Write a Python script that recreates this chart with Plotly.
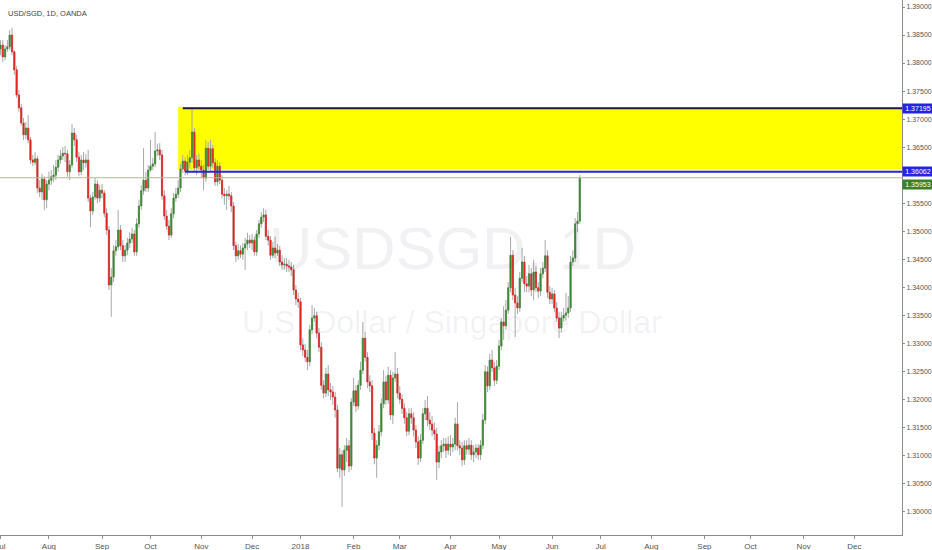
import numpy as np
import pandas as pd
import plotly.graph_objects as go

# ---------------- data (USD/SGD daily, OANDA) ----------------
open_ = [
1.3825, 1.3832, 1.3811, 1.3825, 1.3829, 1.3850, 1.3820, 1.3788, 1.3743, 1.3720,
1.3693, 1.3672, 1.3684, 1.3663, 1.3627, 1.3623, 1.3629, 1.3577, 1.3570, 1.3593,
1.3556, 1.3584, 1.3591, 1.3597, 1.3600, 1.3614, 1.3627, 1.3634, 1.3639, 1.3638,
1.3606, 1.3618, 1.3675, 1.3663, 1.3632, 1.3606, 1.3627, 1.3622, 1.3627, 1.3559,
1.3536, 1.3561, 1.3584, 1.3559, 1.3573, 1.3568, 1.3532, 1.3502, 1.3404, 1.3418,
1.3465, 1.3472, 1.3502, 1.3474, 1.3456, 1.3466, 1.3479, 1.3486, 1.3495, 1.3463,
1.3513, 1.3545, 1.3572, 1.3591, 1.3577, 1.3609, 1.3616, 1.3620, 1.3643, 1.3645,
1.3636, 1.3563, 1.3527, 1.3509, 1.3493, 1.3531, 1.3559, 1.3566, 1.3577, 1.3611,
1.3625, 1.3607, 1.3623, 1.3631, 1.3677, 1.3613, 1.3627, 1.3616, 1.3609, 1.3595,
1.3648, 1.3616, 1.3647, 1.3622, 1.3588, 1.3616, 1.3591, 1.3566, 1.3563, 1.3566,
1.3563, 1.3545, 1.3474, 1.3456, 1.3465, 1.3459, 1.3470, 1.3477, 1.3484, 1.3479,
1.3484, 1.3463, 1.3495, 1.3513, 1.3525, 1.3529, 1.3491, 1.3484, 1.3457, 1.3470,
1.3461, 1.3466, 1.3445, 1.3440, 1.3441, 1.3438, 1.3436, 1.3431, 1.3395, 1.3379,
1.3374, 1.3297, 1.3288, 1.3275, 1.3267, 1.3324, 1.3345, 1.3349, 1.3318, 1.3293,
1.3225, 1.3211, 1.3245, 1.3217, 1.3213, 1.3204, 1.3181, 1.3077, 1.3101, 1.3074,
1.3109, 1.3117, 1.3081, 1.3195, 1.3215, 1.3188, 1.3225, 1.3252, 1.3309, 1.3275,
1.3231, 1.3224, 1.3140, 1.3095, 1.3118, 1.3142, 1.3192, 1.3231, 1.3199, 1.3243,
1.3172, 1.3238, 1.3245, 1.3211, 1.3200, 1.3184, 1.3167, 1.3143, 1.3174, 1.3167,
1.3145, 1.3124, 1.3095, 1.3127, 1.3174, 1.3184, 1.3163, 1.3156, 1.3145, 1.3138,
1.3088, 1.3106, 1.3117, 1.3120, 1.3109, 1.3120, 1.3115, 1.3120, 1.3156, 1.3117,
1.3113, 1.3092, 1.3117, 1.3111, 1.3118, 1.3101, 1.3106, 1.3113, 1.3101, 1.3118,
1.3163, 1.3249, 1.3224, 1.3270, 1.3256, 1.3234, 1.3259, 1.3295, 1.3338, 1.3331,
1.3359, 1.3399, 1.3457, 1.3386, 1.3372, 1.3363, 1.3416, 1.3445, 1.3406, 1.3402,
1.3424, 1.3395, 1.3427, 1.3399, 1.3393, 1.3424, 1.3434, 1.3456, 1.3391, 1.3379,
1.3388, 1.3363, 1.3345, 1.3327, 1.3345, 1.3350, 1.3354, 1.3363, 1.3445, 1.3452,
1.3513, 1.3518]

high = [
1.3841, 1.3841, 1.3832, 1.3841, 1.3859, 1.3863, 1.3823, 1.3795, 1.3752, 1.3727,
1.3702, 1.3695, 1.3707, 1.3668, 1.3636, 1.3641, 1.3634, 1.3591, 1.3602, 1.3598,
1.3591, 1.3606, 1.3609, 1.3618, 1.3627, 1.3636, 1.3645, 1.3650, 1.3652, 1.3645,
1.3627, 1.3691, 1.3684, 1.3672, 1.3641, 1.3636, 1.3641, 1.3638, 1.3645, 1.3565,
1.3570, 1.3595, 1.3591, 1.3582, 1.3584, 1.3573, 1.3541, 1.3509, 1.3434, 1.3475,
1.3484, 1.3538, 1.3511, 1.3484, 1.3475, 1.3488, 1.3498, 1.3506, 1.3502, 1.3523,
1.3556, 1.3582, 1.3648, 1.3606, 1.3618, 1.3663, 1.3631, 1.3677, 1.3656, 1.3657,
1.3645, 1.3573, 1.3538, 1.3520, 1.3541, 1.3568, 1.3577, 1.3591, 1.3620, 1.3636,
1.3632, 1.3636, 1.3645, 1.37195, 1.3684, 1.3636, 1.3639, 1.3627, 1.3618, 1.3663,
1.3659, 1.3663, 1.3654, 1.3631, 1.3627, 1.3623, 1.3600, 1.3577, 1.3573, 1.3581,
1.3570, 1.3552, 1.3481, 1.3477, 1.3475, 1.3479, 1.3488, 1.3497, 1.3493, 1.3495,
1.3491, 1.3502, 1.3520, 1.3534, 1.3541, 1.3538, 1.3502, 1.3491, 1.3481, 1.3490,
1.3477, 1.3474, 1.3457, 1.3452, 1.3452, 1.3449, 1.3445, 1.3440, 1.3404, 1.3390,
1.3381, 1.3309, 1.3299, 1.3288, 1.3333, 1.3368, 1.3363, 1.3356, 1.3327, 1.3302,
1.3234, 1.3256, 1.3261, 1.3229, 1.3224, 1.3213, 1.3190, 1.3113, 1.3109, 1.3118,
1.3131, 1.3127, 1.3202, 1.3238, 1.3225, 1.3234, 1.3267, 1.3338, 1.3320, 1.3284,
1.3243, 1.3234, 1.3149, 1.3127, 1.3154, 1.3202, 1.3252, 1.3242, 1.3258, 1.3252,
1.3249, 1.3284, 1.3256, 1.3224, 1.3209, 1.3193, 1.3177, 1.3184, 1.3184, 1.3177,
1.3154, 1.3134, 1.3138, 1.3184, 1.3199, 1.3206, 1.3177, 1.3170, 1.3159, 1.3149,
1.3117, 1.3127, 1.3131, 1.3131, 1.3134, 1.3136, 1.3131, 1.3167, 1.3195, 1.3127,
1.3124, 1.3127, 1.3127, 1.3131, 1.3127, 1.3118, 1.3120, 1.3120, 1.3127, 1.3174,
1.3261, 1.3259, 1.3281, 1.3288, 1.3267, 1.3270, 1.3306, 1.3345, 1.3366, 1.3377,
1.3409, 1.3490, 1.3466, 1.3399, 1.3384, 1.3427, 1.3470, 1.3456, 1.3420, 1.3440,
1.3434, 1.3449, 1.3438, 1.3409, 1.3434, 1.3445, 1.3484, 1.3466, 1.3402, 1.3399,
1.3395, 1.3374, 1.3356, 1.3356, 1.3363, 1.3390, 1.3384, 1.3456, 1.3466, 1.3523,
1.3534, 1.3600]

low = [
1.3814, 1.3802, 1.3805, 1.3820, 1.3823, 1.3814, 1.3779, 1.3738, 1.3713, 1.3688,
1.3663, 1.3664, 1.3657, 1.3620, 1.3616, 1.3618, 1.3568, 1.3561, 1.3556, 1.3538,
1.3541, 1.3573, 1.3582, 1.3588, 1.3591, 1.3606, 1.3620, 1.3627, 1.3623, 1.3597,
1.3591, 1.3613, 1.3652, 1.3623, 1.3598, 1.3600, 1.3609, 1.3613, 1.3552, 1.3507,
1.3529, 1.3556, 1.3550, 1.3552, 1.3559, 1.3525, 1.3493, 1.3395, 1.3347, 1.3409,
1.3456, 1.3466, 1.3466, 1.3445, 1.3445, 1.3457, 1.3470, 1.3479, 1.3456, 1.3456,
1.3506, 1.3538, 1.3565, 1.3570, 1.3570, 1.3606, 1.3609, 1.3614, 1.3634, 1.3627,
1.3556, 1.3520, 1.3502, 1.3484, 1.3488, 1.3523, 1.3552, 1.3559, 1.3570, 1.3604,
1.3600, 1.3600, 1.3613, 1.3622, 1.3606, 1.3600, 1.3609, 1.3595, 1.3573, 1.3588,
1.3609, 1.3606, 1.3613, 1.3581, 1.3581, 1.3584, 1.3559, 1.3547, 1.3538, 1.3556,
1.3534, 1.3466, 1.3445, 1.3449, 1.3452, 1.3449, 1.3431, 1.3466, 1.3470, 1.3466,
1.3456, 1.3456, 1.3488, 1.3506, 1.3516, 1.3484, 1.3474, 1.3449, 1.3452, 1.3452,
1.3456, 1.3438, 1.3431, 1.3431, 1.3427, 1.3427, 1.3420, 1.3386, 1.3368, 1.3363,
1.3288, 1.3277, 1.3267, 1.3252, 1.3259, 1.3316, 1.3338, 1.3309, 1.3284, 1.3217,
1.3202, 1.3204, 1.3206, 1.3199, 1.3190, 1.3167, 1.3070, 1.3060, 1.3008, 1.3063,
1.3088, 1.3070, 1.3074, 1.3188, 1.3177, 1.3181, 1.3217, 1.3245, 1.3267, 1.3220,
1.3213, 1.3127, 1.3084, 1.3060, 1.3109, 1.3134, 1.3184, 1.3190, 1.3192, 1.3163,
1.3156, 1.3231, 1.3202, 1.3192, 1.3174, 1.3156, 1.3134, 1.3136, 1.3156, 1.3134,
1.3113, 1.3083, 1.3088, 1.3120, 1.3163, 1.3152, 1.3145, 1.3134, 1.3127, 1.3056,
1.3077, 1.3095, 1.3106, 1.3095, 1.3101, 1.3099, 1.3106, 1.3109, 1.3109, 1.3101,
1.3081, 1.3083, 1.3101, 1.3101, 1.3092, 1.3088, 1.3095, 1.3092, 1.3092, 1.3111,
1.3156, 1.3213, 1.3217, 1.3249, 1.3224, 1.3227, 1.3252, 1.3288, 1.3306, 1.3324,
1.3352, 1.3391, 1.3377, 1.3311, 1.3352, 1.3356, 1.3409, 1.3391, 1.3391, 1.3391,
1.3384, 1.3377, 1.3391, 1.3381, 1.3384, 1.3416, 1.3427, 1.3381, 1.3370, 1.3370,
1.3356, 1.3338, 1.3309, 1.3320, 1.3338, 1.3341, 1.3345, 1.3356, 1.3438, 1.3445,
1.3498, 1.3513]

close = [
1.3832, 1.3811, 1.3825, 1.3829, 1.3850, 1.3820, 1.3788, 1.3743, 1.3720, 1.3693,
1.3672, 1.3684, 1.3663, 1.3627, 1.3623, 1.3629, 1.3577, 1.3570, 1.3593, 1.3556,
1.3584, 1.3591, 1.3597, 1.3600, 1.3614, 1.3627, 1.3634, 1.3639, 1.3638, 1.3606,
1.3618, 1.3675, 1.3663, 1.3632, 1.3606, 1.3627, 1.3622, 1.3627, 1.3559, 1.3536,
1.3561, 1.3584, 1.3559, 1.3573, 1.3568, 1.3532, 1.3502, 1.3404, 1.3418, 1.3465,
1.3472, 1.3502, 1.3474, 1.3456, 1.3466, 1.3479, 1.3486, 1.3495, 1.3463, 1.3513,
1.3545, 1.3572, 1.3591, 1.3577, 1.3609, 1.3616, 1.3620, 1.3643, 1.3645, 1.3636,
1.3563, 1.3527, 1.3509, 1.3493, 1.3531, 1.3559, 1.3566, 1.3577, 1.3611, 1.3625,
1.3607, 1.3623, 1.3631, 1.3677, 1.3613, 1.3627, 1.3616, 1.3609, 1.3595, 1.3648,
1.3616, 1.3647, 1.3622, 1.3588, 1.3616, 1.3591, 1.3566, 1.3563, 1.3566, 1.3563,
1.3545, 1.3474, 1.3456, 1.3465, 1.3459, 1.3470, 1.3477, 1.3484, 1.3479, 1.3484,
1.3463, 1.3495, 1.3513, 1.3525, 1.3529, 1.3491, 1.3484, 1.3457, 1.3470, 1.3461,
1.3466, 1.3445, 1.3440, 1.3441, 1.3438, 1.3436, 1.3431, 1.3395, 1.3379, 1.3374,
1.3297, 1.3288, 1.3275, 1.3267, 1.3324, 1.3345, 1.3349, 1.3318, 1.3293, 1.3225,
1.3211, 1.3245, 1.3217, 1.3213, 1.3204, 1.3181, 1.3077, 1.3101, 1.3074, 1.3109,
1.3117, 1.3081, 1.3195, 1.3215, 1.3188, 1.3225, 1.3252, 1.3309, 1.3275, 1.3231,
1.3224, 1.3140, 1.3095, 1.3118, 1.3142, 1.3192, 1.3231, 1.3199, 1.3243, 1.3172,
1.3238, 1.3245, 1.3211, 1.3200, 1.3184, 1.3167, 1.3143, 1.3174, 1.3167, 1.3145,
1.3124, 1.3095, 1.3127, 1.3174, 1.3184, 1.3163, 1.3156, 1.3145, 1.3138, 1.3088,
1.3106, 1.3117, 1.3120, 1.3109, 1.3120, 1.3115, 1.3120, 1.3156, 1.3117, 1.3113,
1.3092, 1.3117, 1.3111, 1.3118, 1.3101, 1.3106, 1.3113, 1.3101, 1.3118, 1.3163,
1.3249, 1.3224, 1.3270, 1.3256, 1.3234, 1.3259, 1.3295, 1.3338, 1.3331, 1.3359,
1.3399, 1.3457, 1.3386, 1.3372, 1.3363, 1.3416, 1.3445, 1.3406, 1.3402, 1.3424,
1.3395, 1.3427, 1.3399, 1.3393, 1.3424, 1.3434, 1.3456, 1.3391, 1.3379, 1.3388,
1.3363, 1.3345, 1.3327, 1.3345, 1.3350, 1.3354, 1.3363, 1.3445, 1.3452, 1.3513,
1.3518, 1.35953]

first_bar_date = "2017-07-03"
axis_end_date = "2018-12-31"

zone_top = 1.37195      # dark line / top of yellow zone
zone_bottom = 1.36062   # blue line
last_price = 1.35953
zone_start_bar = 77     # where the yellow box begins
top_line_start_bar = 79
bottom_line_start_bar = 80

y_ticks = [1.300, 1.305, 1.310, 1.315, 1.320, 1.325, 1.330, 1.335, 1.340,
           1.345, 1.350, 1.355, 1.365, 1.370, 1.375, 1.380, 1.385, 1.390]

# ---------------- build ----------------
n = min(len(open_), len(high), len(low), len(close))
o = np.array(open_[:n]); h = np.array(high[:n]); l = np.array(low[:n]); c = np.array(close[:n])
bars = np.arange(n)

all_days = pd.bdate_range(first_bar_date, axis_end_date)
pos = pd.Series(np.arange(len(all_days)), index=all_days)
month_first = pos.groupby([all_days.year, all_days.month]).min()
tick_vals, tick_text = [], []
for (yr, mo), idx in month_first.items():
    tick_vals.append(int(idx))
    tick_text.append(str(yr) if mo == 1 else pd.Timestamp(year=yr, month=mo, day=1).strftime("%b"))

GREEN = "#358a2c"
RED = "#e8201c"
WICK = "#a8a8a8"

fig = go.Figure()

# wicks (gray)
fig.add_trace(go.Candlestick(
    x=bars, open=o, high=h, low=l, close=c,
    increasing=dict(line=dict(color=WICK, width=1), fillcolor=WICK),
    decreasing=dict(line=dict(color=WICK, width=1), fillcolor=WICK),
    whiskerwidth=0, hoverinfo="skip", showlegend=False))

# coloured bodies
fig.add_trace(go.Candlestick(
    x=bars, open=o, close=c, high=np.maximum(o, c), low=np.minimum(o, c),
    increasing=dict(line=dict(color=GREEN, width=0.6), fillcolor=GREEN),
    decreasing=dict(line=dict(color=RED, width=0.6), fillcolor=RED),
    whiskerwidth=0, hoverinfo="skip", showlegend=False))

x_lo, x_hi = -0.2, 390.6
y_lo, y_hi = 1.29578, 1.39125

shapes = [
    dict(type="rect", xref="x", yref="y", x0=zone_start_bar, x1=x_hi + 20,
         y0=zone_bottom + 0.0004, y1=zone_top + 0.0002,
         fillcolor="#ffff00", line=dict(width=0), layer="below"),
    dict(type="line", xref="x", yref="y", x0=top_line_start_bar, x1=x_hi + 20,
         y0=zone_top, y1=zone_top, line=dict(color="#1b1b3a", width=2)),
    dict(type="line", xref="x", yref="y", x0=bottom_line_start_bar, x1=x_hi + 20,
         y0=zone_bottom, y1=zone_bottom, line=dict(color="#2424d8", width=2)),
    dict(type="line", xref="paper", yref="y", x0=0, x1=1,
         y0=last_price, y1=last_price, line=dict(color="#b3b896", width=1)),
]

WM = "rgba(40,50,90,0.065)"
annotations = [
    dict(text="USD/SGD, 1D, OANDA", xref="paper", yref="paper", x=0.0066, y=0.9757,
         xanchor="left", yanchor="middle", showarrow=False,
         font=dict(family="Liberation Sans, Arial", size=7.5, color="#444444")),
    dict(text="USDSGD, 1D", xref="paper", yref="paper", x=0.502, y=0.5364,
         xanchor="center", yanchor="middle", showarrow=False,
         font=dict(family="Liberation Sans, Arial", size=60, color=WM)),
    dict(text="U.S. Dollar / Singapore Dollar", xref="paper", yref="paper", x=0.501, y=0.398,
         xanchor="center", yanchor="middle", showarrow=False,
         font=dict(family="Liberation Sans, Arial", size=32, color=WM)),
]
for val, bg, shift in [(zone_top, "#2424e6", 0), (zone_bottom, "#2424e6", 0), (last_price, "#3b7f2d", -7)]:
    annotations.append(dict(
        text=f"{val:.5f}", xref="paper", yref="y", x=1, y=val, yshift=shift,
        xanchor="left", yanchor="middle", showarrow=False, bgcolor=bg,
        borderpad=1, width=28, align="center",
        font=dict(family="Liberation Sans, Arial", size=7, color="#ffffff")))

fig.update_layout(
    width=932, height=550,
    margin=dict(l=0, r=30, t=0, b=15, pad=0, autoexpand=False),
    paper_bgcolor="#ffffff", plot_bgcolor="#ffffff",
    showlegend=False, hovermode=False,
    shapes=shapes, annotations=annotations,
    xaxis=dict(range=[x_lo, x_hi], rangeslider=dict(visible=False),
               tickmode="array", tickvals=tick_vals, ticktext=tick_text,
               ticklabeloverflow="allow", automargin=False,
               showgrid=False, zeroline=False, showline=True, linecolor="#8c8c8c", linewidth=1,
               ticks="outside", ticklen=3, tickcolor="#8c8c8c",
               tickfont=dict(family="Liberation Sans, Arial", size=8, color="#555555")),
    yaxis=dict(range=[y_lo, y_hi], side="right", automargin=False,
               tickmode="array", tickvals=y_ticks, ticktext=[f"{v:.5f}" for v in y_ticks],
               ticklabeloverflow="allow",
               showgrid=False, zeroline=False, showline=True, linecolor="#8c8c8c", linewidth=1,
               ticks="outside", ticklen=2, tickcolor="#8c8c8c",
               tickfont=dict(family="Liberation Sans, Arial", size=7, color="#555555")),
)

fig.write_html("out.html", config={"displayModeBar": False},
               post_script="document.body.style.margin='0';document.body.style.padding='0';document.body.style.overflow='hidden';")
